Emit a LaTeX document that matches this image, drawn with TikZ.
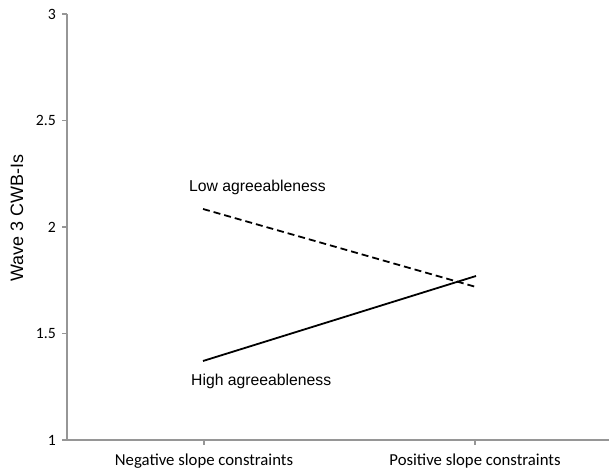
\documentclass[tikz,border=0pt]{standalone}
\usepackage{fontspec}
\setmainfont{Liberation Sans}
\newfontfamily\calfont{Carlito}
\begin{document}
\begin{tikzpicture}[x=1bp,y=1bp,
  axisline/.style={draw={rgb,255:red,150;green,150;blue,150},line width=1.3bp},
  ticklab/.style={font=\calfont\fontsize{15.8}{18}\selectfont,anchor=east,inner sep=0pt},
  catlab/.style={font=\calfont\fontsize{16.8}{19}\selectfont,inner sep=0pt},
  serlab/.style={font=\fontsize{15.8}{18}\selectfont,anchor=west,inner sep=0pt},
  dataline/.style={line width=1.8bp,black}]
\useasboundingbox (0,0) rectangle (609,474);
% axes
\coordinate (o) at (67,34);
\coordinate (ytop) at (67,460);
\coordinate (xend) at (609,34);
\draw[axisline] (ytop) -- (o) -- (xend);
% y ticks
\foreach \v/\lab in {0/1,1/1.5,2/2,3/2.5,4/3}{
  \draw[axisline] (62,34+106.5*\v) -- (67,34+106.5*\v);
  \node[ticklab] (yt\v) at (56,34+106.5*\v) {\lab};
}
% x ticks
\draw[axisline] (204,34) -- (204,29);
\draw[axisline] (475,34) -- (475,29);
\node[catlab] (neg) at (204,13) {Negative slope constraints};
\node[catlab] (pos) at (475,13) {Positive slope constraints};
% axis title
\node[rotate=90,font=\fontsize{18}{20}\selectfont,inner sep=0pt] (ytitle) at (17,256) {Wave 3 CWB-Is};
% data
\coordinate (lowA) at (203,265);
\coordinate (lowB) at (476,187);
\coordinate (highA) at (203,113);
\coordinate (highB) at (476,198);
\draw[dataline,dash pattern=on 7bp off 4bp] (lowA) -- (lowB);
\draw[dataline] (highA) -- (highB);
\node[serlab] (lowlab) at (189,287) {Low agreeableness};
\node[serlab] (highlab) at (191,93) {High agreeableness};
\end{tikzpicture}
\end{document}
